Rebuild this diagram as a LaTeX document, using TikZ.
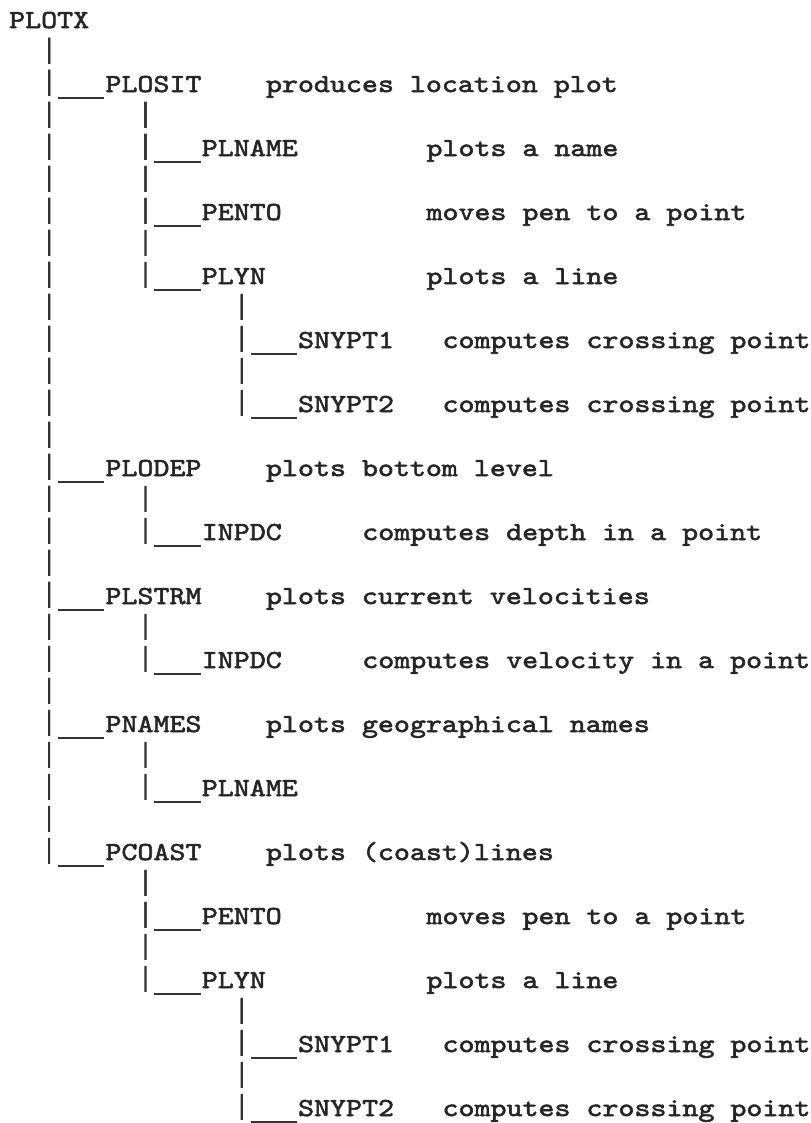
\documentclass[tikz,border=0pt]{standalone}
\usepackage{fontspec}
\usepackage{tikz}
\newfontfamily\typer{lmmono10-regular.otf}[FakeStretch=1.176, FakeBold=2.2]

\begin{document}
\begin{tikzpicture}[x=16.05bp, y=-32bp,
  txt/.style={font=\typer\fontsize{26}{32}\selectfont, text=black!85, inner sep=0pt, anchor=base west},
  vbar/.style={line width=2.2bp, black!80, dash pattern=on 26bp off 6bp},
  uline/.style={line width=2.2bp, black!80}]
\useasboundingbox[fill=white] (-9bp,28bp) rectangle (802bp,-1095bp);
% routine names: column = depth, line = row of the listing
\node[txt] (plotx) at (0,0) {PLOTX};
\node[txt] (plosit) at (6,2) {PLOSIT};
\node[txt] (plname1) at (12,4) {PLNAME};
\node[txt] (pento1) at (12,6) {PENTO};
\node[txt] (plyn1) at (12,8) {PLYN};
\node[txt] (snypt1a) at (18,10) {SNYPT1};
\node[txt] (snypt2a) at (18,12) {SNYPT2};
\node[txt] (plodep) at (6,14) {PLODEP};
\node[txt] (inpdc1) at (12,16) {INPDC};
\node[txt] (plstrm) at (6,18) {PLSTRM};
\node[txt] (inpdc2) at (12,20) {INPDC};
\node[txt] (pnames) at (6,22) {PNAMES};
\node[txt] (plname2) at (12,24) {PLNAME};
\node[txt] (pcoast) at (6,26) {PCOAST};
\node[txt] (pento2) at (12,28) {PENTO};
\node[txt] (plyn2) at (12,30) {PLYN};
\node[txt] (snypt1b) at (18,32) {SNYPT1};
\node[txt] (snypt2b) at (18,34) {SNYPT2};
% what each one does
\node[txt] (plositd) at (16,2) {produces location plot};
\node[txt] (plname1d) at (26,4) {plots a name};
\node[txt] (pento1d) at (26,6) {moves pen to a point};
\node[txt] (plyn1d) at (26,8) {plots a line};
\node[txt] (snypt1ad) at (27,10) {computes crossing point};
\node[txt] (snypt2ad) at (27,12) {computes crossing point};
\node[txt] (plodepd) at (16,14) {plots bottom level};
\node[txt] (inpdc1d) at (22,16) {computes depth in a point};
\node[txt] (plstrmd) at (16,18) {plots current velocities};
\node[txt] (inpdc2d) at (22,20) {computes velocity in a point};
\node[txt] (pnamesd) at (16,22) {plots geographical names};
\node[txt] (pcoastd) at (16,26) {plots (coast)lines};
\node[txt] (pento2d) at (26,28) {moves pen to a point};
\node[txt] (plyn2d) at (26,30) {plots a line};
\node[txt] (snypt1bd) at (27,32) {computes crossing point};
\node[txt] (snypt2bd) at (27,34) {computes crossing point};
% calls: typed bar down from the caller, underline to the callee
\foreach \p/\c in {plotx/plosit, plotx/plodep, plotx/plstrm, plotx/pnames, plotx/pcoast,
    plosit/plname1, plosit/pento1, plosit/plyn1, plyn1/snypt1a, plyn1/snypt2a,
    plodep/inpdc1, plstrm/inpdc2, pnames/plname2,
    pcoast/pento2, pcoast/plyn2, plyn2/snypt1b, plyn2/snypt2b} {
  \draw[vbar] ([shift={(2.5,.31)}]\p.base west) -- ([shift={(-3.5,.13)}]\c.base west);
  \draw[uline] ([shift={(-2.95,.19)}]\c.base west) -- ([shift={(-.05,.19)}]\c.base west);
}
\end{tikzpicture}
\end{document}
